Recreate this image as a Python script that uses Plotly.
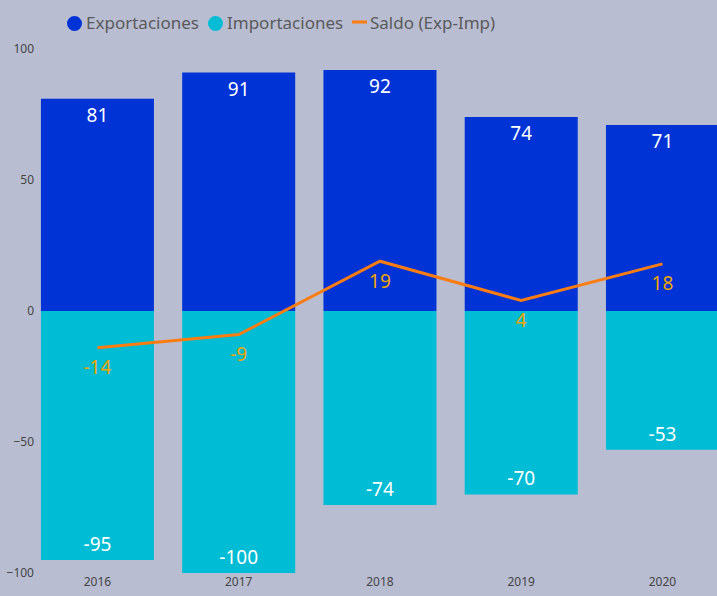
import plotly.graph_objects as go

years = ["2016", "2017", "2018", "2019", "2020"]
exportaciones = [81, 91, 92, 74, 71]
importaciones = [-95, -100, -74, -70, -53]
saldo = [-14, -9, 19, 4, 18]
y_ticks = [100, 50, 0, -50, -100]
legend_names = ["Exportaciones", "Importaciones", "Saldo (Exp-Imp)"]

BG = "#b9bdd2"
C_EXP = "#0033d6"
C_IMP = "#00bcd4"
C_LINE = "#fb7d12"
C_LBL = "#f2a500"
FONT = "Noto Sans, Segoe UI, sans-serif"

fig = go.Figure()
fig.add_trace(go.Bar(
    x=years, y=exportaciones, name=legend_names[0], marker_color=C_EXP,
    text=[str(v) for v in exportaciones], textposition="inside", insidetextanchor="end",
    textfont=dict(color="white", size=19, family=FONT), showlegend=False,
    marker_line_width=0, textangle=0,
))
fig.add_trace(go.Bar(
    x=years, y=importaciones, name=legend_names[1], marker_color=C_IMP,
    text=[str(v) for v in importaciones], textposition="inside", insidetextanchor="end",
    textfont=dict(color="white", size=19, family=FONT), showlegend=False,
    marker_line_width=0, textangle=0,
))
fig.add_trace(go.Scatter(
    x=years, y=saldo, name=legend_names[2], mode="lines+markers+text",
    line=dict(color=C_LINE, width=3),
    marker=dict(size=18, color="rgba(0,0,0,0)"),
    text=[str(v) for v in saldo], textposition="bottom center",
    textfont=dict(color=C_LBL, size=19, family=FONT), showlegend=False,
    hoverinfo="x+y",
))

# custom legend (circles / short dash like the original), pixel -> paper helpers
L, T, PW, PH = 35, 49, 717 - 35, 524
def px(x):
    return (x - L) / PW
def py(y):
    return 1 + (T - y) / PH

legend_items = [
    (legend_names[0], C_EXP, "circle", 67, 84),
    (legend_names[1], C_IMP, "circle", 208, 225),
    (legend_names[2], C_LINE, "dash", 352, 368),
]
for name, col, kind, sx, tx in legend_items:
    if kind == "circle":
        fig.add_shape(type="circle", xref="paper", yref="paper",
                      x0=px(sx), x1=px(sx + 15), y0=py(31), y1=py(16),
                      fillcolor=col, line=dict(width=0))
    else:
        fig.add_shape(type="line", xref="paper", yref="paper",
                      x0=px(sx), x1=px(sx + 15), y0=py(22), y1=py(22),
                      line=dict(color=col, width=3))
    fig.add_annotation(
        xref="paper", yref="paper", x=px(tx), y=py(23),
        xanchor="left", yanchor="middle", showarrow=False,
        text=name, font=dict(size=17, color="#5a5a5a", family=FONT),
    )

fig.update_layout(
    width=717, height=596,
    paper_bgcolor=BG, plot_bgcolor=BG,
    margin=dict(l=35, r=0, t=49, b=23),
    barmode="overlay", bargap=0.2,
    font=dict(family=FONT, color="#555555"),
    showlegend=False,
    xaxis=dict(type="category", range=[-0.442, 4.386], showgrid=False, zeroline=False,
               showline=False, ticks="", tickfont=dict(size=12, color="#444444")),
    yaxis=dict(range=[-100, 100], tickvals=y_ticks, showgrid=False, zeroline=False,
               showline=False, ticks="", tickfont=dict(size=12, color="#444444")),
    uniformtext=dict(minsize=10, mode="show"),
)

fig.write_html("out.html", config={"displayModeBar": False},
               post_script="document.body.style.margin='0';")
